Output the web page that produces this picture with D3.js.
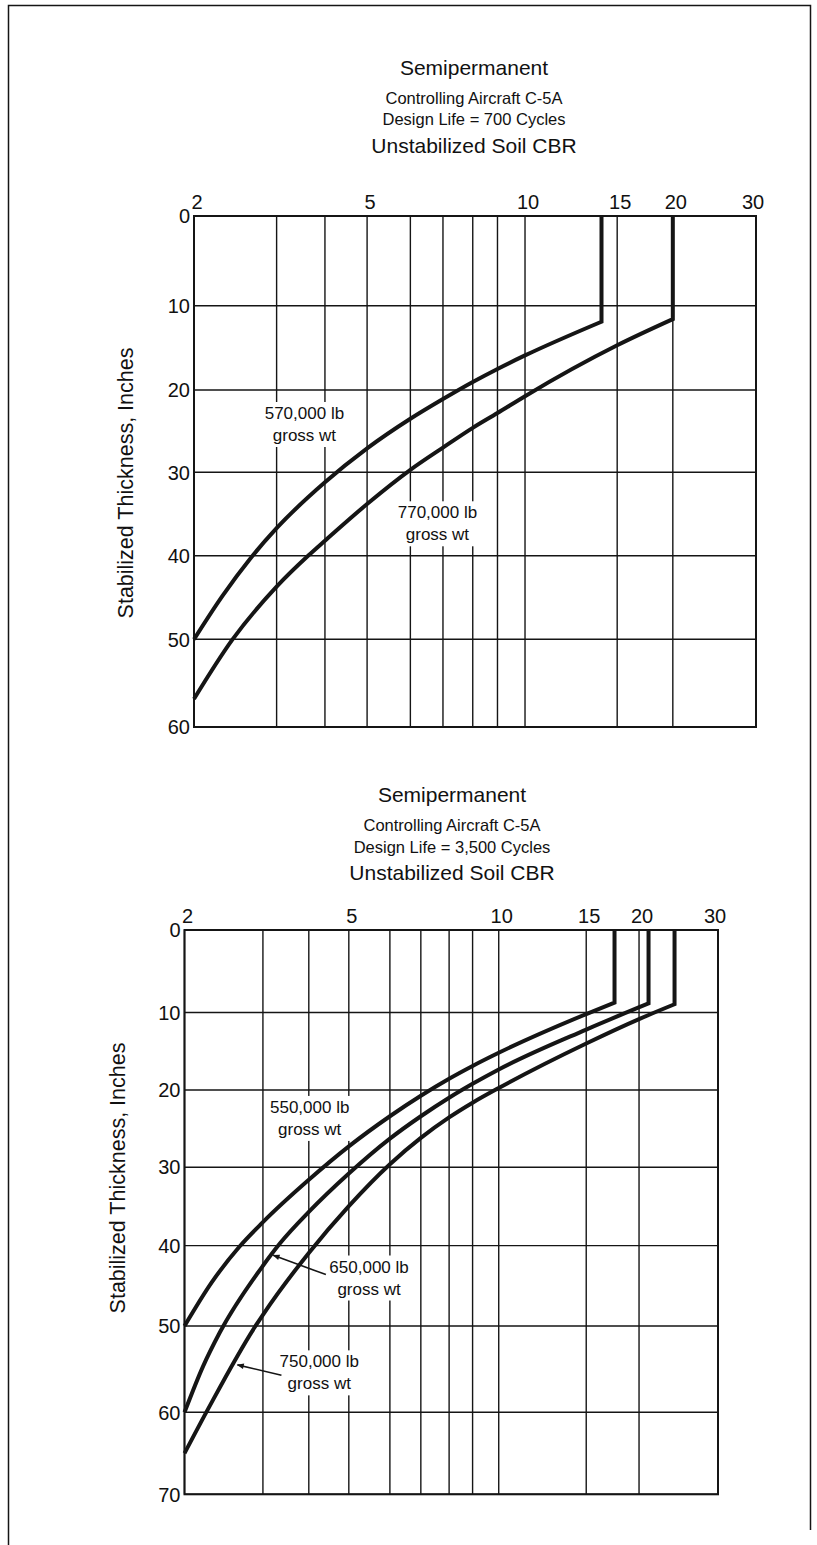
<!DOCTYPE html>
<html><head><meta charset="utf-8">
<script src="https://cdn.jsdelivr.net/npm/d3@7"></script>
<style>
body{margin:0;background:#fff}
svg{display:block}
text{font-family:"Liberation Sans",Arial,Helvetica,sans-serif;fill:#111}
</style>
</head><body>
<svg id="c" width="817" height="1545"></svg>
<script>
// ---------- DATA ----------
const cbrTicks = [2, 3, 4, 5, 6, 7, 8, 9, 10, 15, 20, 30];
const cbrLabels = [2, 5, 10, 15, 20, 30];
const thickTicksA = [0, 10, 20, 30, 40, 50, 60];
const thickTicksB = [0, 10, 20, 30, 40, 50, 60, 70];

// Chart A: Design life = 700 cycles  (CBR -> stabilized thickness, in.)
const cbr570 = [2, 2.3, 2.64, 3, 4, 5, 6, 7, 8, 9, 10, 14];
const thk570 = [50, 44.8, 40.3, 36.7, 31.2, 27.1, 23.5, 21.1, 19.05, 17.5, 15.9, 11.9];
const vert570 = 14;
const cbr770 = [2, 2.41, 3, 3.63, 4, 5, 6, 7, 8, 9, 10, 15, 20];
const thk770 = [56.8, 50.1, 43.7, 39.95, 38.2, 33.8, 29.7, 27.0, 24.6, 22.8, 20.75, 14.7, 11.6];
const vert770 = 20;

// Chart B: Design life = 3,500 cycles
const cbr550 = [2, 2.3, 2.65, 3, 4, 5, 6, 7, 8, 9, 10, 15, 17.5];
const thk550 = [50, 44.6, 40.2, 37.0, 31.6, 27.3, 23.4, 20.75, 18.55, 16.9, 15.2, 10.2, 8.8];
const vert550 = 17.5;
const cbr650 = [2, 2.2, 2.4, 3, 3.34, 4, 5, 6, 7, 8, 9, 10, 15, 21];
const thk650 = [60, 54.7, 50.75, 42.5, 39.7, 35.7, 30.8, 26.3, 23.4, 21.0, 19.2, 17.35, 12.2, 8.9];
const vert650 = 21;
const cbr750 = [2, 2.26, 2.87, 3, 4, 5, 6, 7, 8, 9, 10, 15, 20, 24];
const thk750 = [65, 59.6, 50.2, 48.6, 40.9, 34.95, 29.6, 26.2, 23.55, 21.65, 19.75, 14.0, 10.85, 9.0];
const vert750 = 24;

// curve labels: [cbr, thickness] anchor of first line
const labelsA = [
  {lines: ["570,000 lb", "gross wt"], at: [3.54, 22.8]},
  {lines: ["770,000 lb", "gross wt"], at: [6.82, 34.8]}
];
const labelsB = [
  {lines: ["550,000 lb", "gross wt"], at: [4.02, 22.2]},
  {lines: ["650,000 lb", "gross wt"], at: [5.47, 42.6], arrowFrom: [4.40, 43.6], arrowTo: [3.2, 41.2]},
  {lines: ["750,000 lb", "gross wt"], at: [4.24, 54.1], arrowFrom: [3.37, 55.7], arrowTo: [2.63, 54.5]}
];

const titlesA = ["Semipermanent", "Controlling Aircraft C-5A", "Design Life = 700 Cycles", "Unstabilized Soil CBR"];
const titlesB = ["Semipermanent", "Controlling Aircraft C-5A", "Design Life = 3,500 Cycles", "Unstabilized Soil CBR"];
const yTitle = "Stabilized Thickness, Inches";

// ---------- LAYOUT ----------
// relative positions of the printed grid lines (hand-drawn semi-log paper)
const xFrac = [0, 0.147, 0.233, 0.308, 0.385, 0.443, 0.496, 0.540, 0.589, 0.753, 0.852, 1];
const charts = [
  {left: 194, top: 216, width: 562, height: 511,
   yTicks: thickTicksA, yFrac: [0, 0.1755, 0.3405, 0.5016, 0.6648, 0.8284, 1],
   titles: titlesA, titleY: [68, 98, 119, 146], titleX: 474,
   yTitlePos: [125, 483],
   series: [
     {cbr: cbr570, thk: thk570, vert: vert570},
     {cbr: cbr770, thk: thk770, vert: vert770}],
   labels: labelsA},
  {left: 184.5, top: 930, width: 533.5, height: 564.3,
   yTicks: thickTicksB, yFrac: [0, 0.1462, 0.2835, 0.4205, 0.5594, 0.7018, 0.8547, 1],
   titles: titlesB, titleY: [795, 825, 847, 873], titleX: 452,
   yTitlePos: [117, 1178],
   series: [
     {cbr: cbr550, thk: thk550, vert: vert550},
     {cbr: cbr650, thk: thk650, vert: vert650},
     {cbr: cbr750, thk: thk750, vert: vert750}],
   labels: labelsB}
];

const svg = d3.select("#c");
const ink = "#151515";

// page frame
svg.append("path")
  .attr("d", "M8.5,1545 L8.5,5.5 L810.5,5.5 L810.5,1530")
  .attr("fill", "none").attr("stroke", ink).attr("stroke-width", 1.5);

const defs = svg.append("defs");
defs.append("marker").attr("id", "ah").attr("viewBox", "0 0 10 10")
  .attr("refX", 9).attr("refY", 5).attr("markerWidth", 9).attr("markerHeight", 7)
  .attr("markerUnits", "userSpaceOnUse").attr("orient", "auto")
  .append("path").attr("d", "M0,1 L10,5 L0,9 Z").attr("fill", ink);

charts.forEach(cfg => {
  const g = svg.append("g");
  const x = d3.scaleLog().domain(cbrTicks)
    .range(xFrac.map(f => cfg.left + f * cfg.width));
  const y = d3.scaleLinear().domain(cfg.yTicks)
    .range(cfg.yFrac.map(f => cfg.top + f * cfg.height));

  // titles
  const tsizes = [21, 16.5, 16.5, 21];
  cfg.titles.forEach((t, i) => {
    g.append("text").attr("x", cfg.titleX).attr("y", cfg.titleY[i])
      .attr("dy", "0.35em").attr("text-anchor", "middle")
      .attr("font-size", tsizes[i]).text(t);
  });

  // grid
  g.append("g").selectAll("line.v").data(cbrTicks).join("line")
    .attr("x1", d => x(d)).attr("x2", d => x(d))
    .attr("y1", y(cfg.yTicks[0])).attr("y2", y(cfg.yTicks[cfg.yTicks.length - 1]))
    .attr("stroke", ink).attr("stroke-width", 1.4);
  g.append("g").selectAll("line.h").data(cfg.yTicks).join("line")
    .attr("y1", d => y(d)).attr("y2", d => y(d))
    .attr("x1", x(2)).attr("x2", x(30))
    .attr("stroke", ink).attr("stroke-width", 1.4);
  g.append("rect").attr("x", x(2)).attr("y", y(0))
    .attr("width", x(30) - x(2)).attr("height", y(cfg.yTicks[cfg.yTicks.length - 1]) - y(0))
    .attr("fill", "none").attr("stroke", ink).attr("stroke-width", 2);

  // top axis labels
  g.append("g").selectAll("text").data(cbrLabels).join("text")
    .attr("x", (d, i) => x(d) + (i === cbrLabels.length - 1 ? -3 : 3))
    .attr("y", cfg.top - 7)
    .attr("text-anchor", "middle").attr("font-size", 20).text(d => d);

  // left axis labels
  g.append("g").selectAll("text").data(cfg.yTicks).join("text")
    .attr("x", x(2) - 4).attr("y", d => y(d)).attr("dy", "0.36em")
    .attr("text-anchor", "end").attr("font-size", 20).text(d => d);

  // y title
  g.append("text").attr("transform", `translate(${cfg.yTitlePos[0]},${cfg.yTitlePos[1]}) rotate(-90)`)
    .attr("text-anchor", "middle").attr("dy", "0.35em").attr("font-size", 21.5).text(yTitle);

  // label white boxes + text
  const lg = g.append("g");
  cfg.labels.forEach(L => {
    const cx = x(L.at[0]), cy = y(L.at[1]);
    const tg = lg.append("g");
    L.lines.forEach((s, i) => tg.append("text").attr("x", cx).attr("y", cy + i * 22)
      .attr("dy", "0.35em").attr("text-anchor", "middle").attr("font-size", 17).text(s));
    const bb = tg.node().getBBox();
    tg.insert("rect", "text").attr("x", bb.x - 3).attr("y", bb.y - 2)
      .attr("width", bb.width + 6).attr("height", bb.height + 4).attr("fill", "#fff");
  });

  // curves through the read points, then the vertical leg up to the surface
  const line = d3.line().x(d => x(d[0])).y(d => y(d[1])).curve(d3.curveMonotoneX);
  cfg.series.forEach(s => {
    const pts = s.cbr.map((c, i) => [c, s.thk[i]]);
    const d = line(pts) + `L${x(s.vert)},${y(0)}`;
    g.append("path").attr("d", d).attr("fill", "none")
      .attr("stroke", ink).attr("stroke-width", 4).attr("stroke-linejoin", "miter");
  });

  // arrows
  cfg.labels.filter(L => L.arrowFrom).forEach(L => {
    g.append("line")
      .attr("x1", x(L.arrowFrom[0])).attr("y1", y(L.arrowFrom[1]))
      .attr("x2", x(L.arrowTo[0])).attr("y2", y(L.arrowTo[1]))
      .attr("stroke", ink).attr("stroke-width", 1.6).attr("marker-end", "url(#ah)");
  });
});
</script>
</body></html>
